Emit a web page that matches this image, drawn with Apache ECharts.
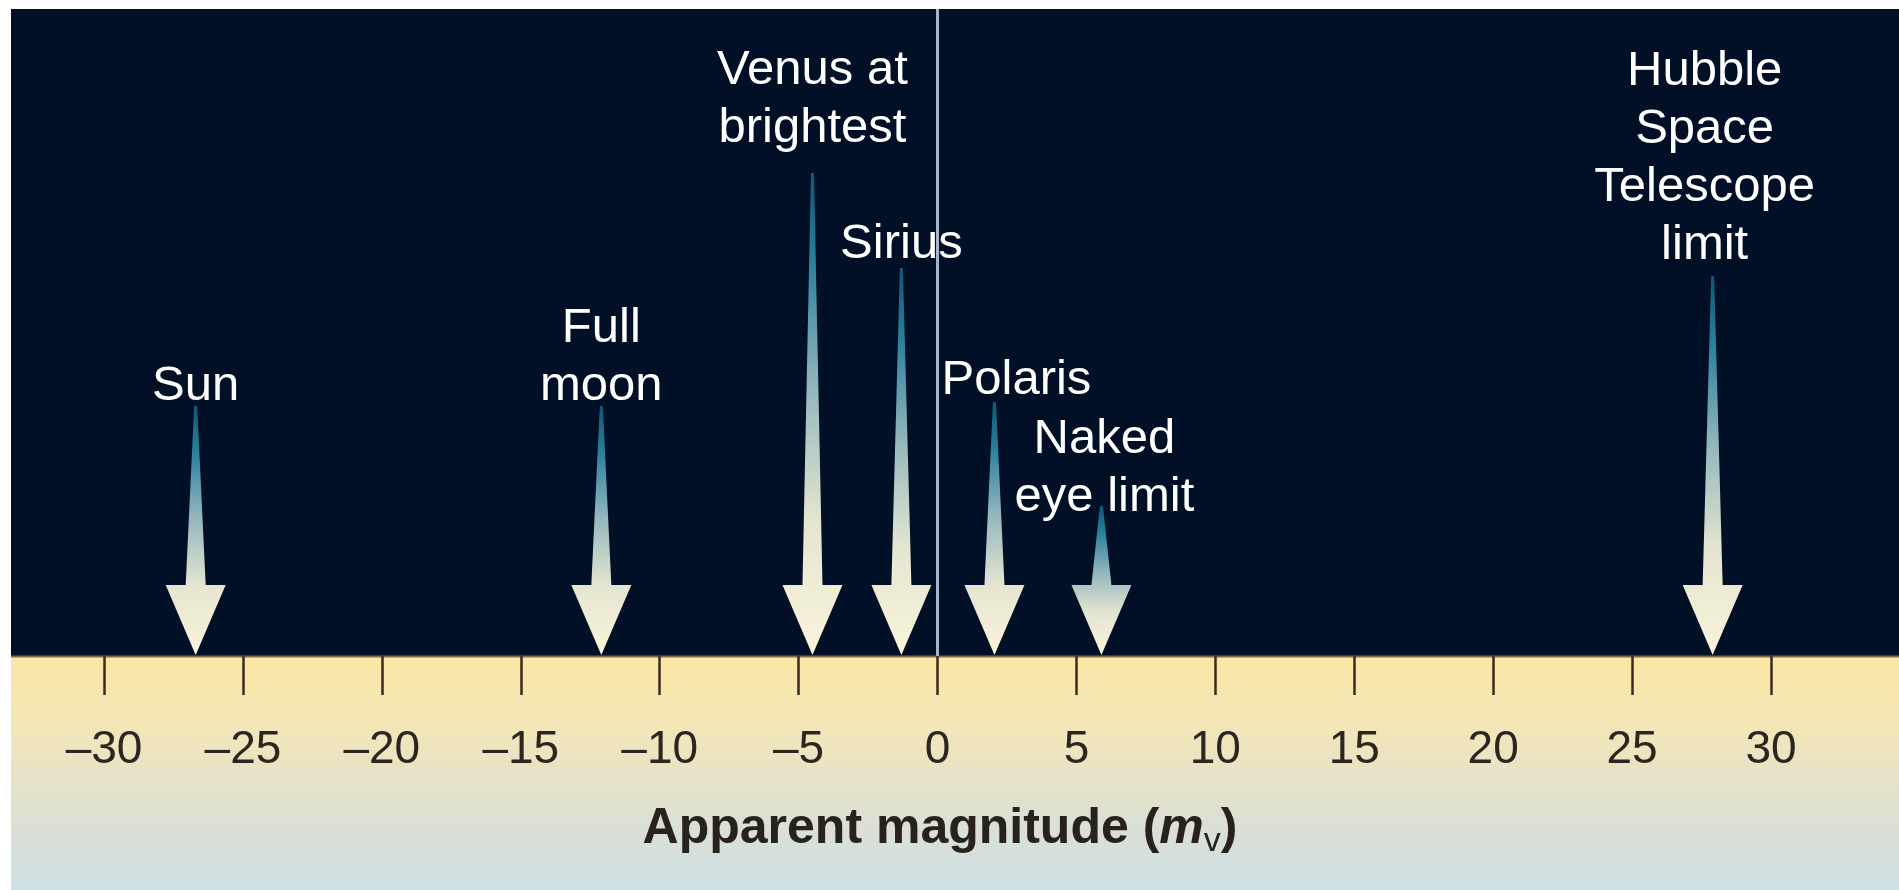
<!DOCTYPE html>
<html>
<head>
<meta charset="utf-8">
<script src="https://cdn.jsdelivr.net/npm/echarts@6/dist/echarts.min.js"></script>
<style>
  html, body { margin: 0; padding: 0; background: #ffffff; }
  #chart { width: 1899px; height: 890px; }
</style>
</head>
<body>
<div id="chart"></div>
<script>
// ---- data ----
const objectNames = ['Sun', 'Full\nmoon', 'Venus at\nbrightest', 'Sirius', 'Polaris', 'Naked\neye limit', 'Hubble\nSpace\nTelescope\nlimit'];
const magnitudes = [-26.7, -12.1, -4.5, -1.3, 2.05, 5.9, 27.9];
const arrowHeights = [250, 250, 483, 388, 254, 150, 380];
const tickValues = [-30, -25, -20, -15, -10, -5, 0, 5, 10, 15, 20, 25, 30];
const axisTitleMain = 'Apparent magnitude (';
const axisTitleVar = 'm';
const axisTitleSub = 'v';

// ---- layout (label placement relative to arrow top) ----
const labelDx = [0, 0, 0, 0, 22, 3, -8];
const labelGap = [23, 23, 48, 27, 25, 12, 34];

const FONT = '"Liberation Sans", Arial, Helvetica, sans-serif';
const chart = echarts.init(document.getElementById('chart'));

const seriesData = magnitudes.map((m, i) => [m, arrowHeights[i]]);

chart.setOption({
  backgroundColor: '#ffffff',
  animation: false,
  grid: { left: 104, right: 128, top: 9, bottom: 234, containLabel: false },
  xAxis: {
    type: 'value',
    min: -30, max: 30, interval: 5,
    splitLine: { show: false },
    axisLine: { show: false },
    axisTick: { show: true, length: 39, lineStyle: { color: '#3a2b1e', width: 2.5 } },
    axisLabel: {
      margin: 71,
      fontSize: 46,
      fontFamily: FONT,
      color: '#2b2620',
      formatter: v => (tickValues.indexOf(v) < 0 ? '' : (v < 0 ? '\u2013' + Math.abs(v) : String(v)))
    }
  },
  yAxis: {
    type: 'value', min: 0, max: 647, show: false
  },
  graphic: [
    { type: 'rect', z: -10, shape: { x: 11, y: 9, width: 1888, height: 648 }, style: { fill: '#011026' }, silent: true },
    { type: 'rect', z: -10, shape: { x: 11, y: 656, width: 1888, height: 234 },
      style: { fill: new echarts.graphic.LinearGradient(0, 0, 0, 1, [
        { offset: 0, color: '#fce6a6' },
        { offset: 0.3, color: '#f4e6b8' },
        { offset: 0.65, color: '#dfe0cf' },
        { offset: 1, color: '#cedfe6' }
      ]) }, silent: true },
    { type: 'line', z: -9, shape: { x1: 11, y1: 656.5, x2: 1899, y2: 656.5 }, style: { stroke: '#7d6a4c', lineWidth: 2 }, silent: true },
    { type: 'text', z: 10, x: 940, y: 829, silent: true,
      style: {
        text: '{b|' + axisTitleMain + '}{i|' + axisTitleVar + '}{s|' + axisTitleSub + '}{b|)}',
        align: 'center', verticalAlign: 'middle',
        rich: {
          b: { fontSize: 50, fontWeight: 'bold', fontFamily: FONT, fill: '#27221d', color: '#27221d', lineHeight: 62, verticalAlign: 'middle' },
          i: { fontSize: 50, fontWeight: 'bold', fontStyle: 'italic', fontFamily: FONT, fill: '#27221d', color: '#27221d', lineHeight: 62, verticalAlign: 'middle' },
          s: { fontSize: 34, fontWeight: 'normal', fontFamily: FONT, fill: '#27221d', color: '#27221d', lineHeight: 62, verticalAlign: 'middle', padding: [26, 0, 0, 0] }
        }
      }
    }
  ],
  series: [{
    type: 'custom',
    coordinateSystem: 'cartesian2d',
    data: seriesData,
    z: 5,
    markLine: {
      silent: true,
      symbol: 'none',
      z: 3,
      label: { show: false },
      lineStyle: { color: '#a4b4ca', width: 3, type: 'solid' },
      data: [{ xAxis: 0 }]
    },
    renderItem: function (params, api) {
      const i = params.dataIndex;
      const m = api.value(0);
      const h = api.value(1);
      const tip = api.coord([m, 0]);
      const top = api.coord([m, h]);
      const x = tip[0];
      const tipY = tip[1] - 1;
      const headH = 70, headW = 60, shaftW = 20, topW = 3;
      const headTop = tipY - headH;
      return {
        type: 'group',
        children: [
          {
            type: 'polygon',
            shape: { points: [
              [x - topW / 2, top[1]], [x + topW / 2, top[1]],
              [x + shaftW / 2, headTop], [x + headW / 2, headTop],
              [x, tipY],
              [x - headW / 2, headTop], [x - shaftW / 2, headTop]
            ] },
            style: {
              fill: new echarts.graphic.LinearGradient(0, 0, 0, 1, [
                { offset: 0, color: '#0f5874' },
                { offset: 0.18, color: '#2a7f9c' },
                { offset: 0.45, color: '#94b7bd' },
                { offset: 0.72, color: '#e4e5d1' },
                { offset: 1, color: '#faf4da' }
              ])
            }
          },
          {
            type: 'text',
            x: x + labelDx[i],
            y: top[1] - labelGap[i] + 32,
            style: {
              text: objectNames[i],
              fontSize: 49,
              fontFamily: FONT,
              fill: '#ffffff',
              align: 'center',
              verticalAlign: 'bottom',
              lineHeight: 58
            }
          }
        ]
      };
    }
  }]
});
</script>
</body>
</html>
